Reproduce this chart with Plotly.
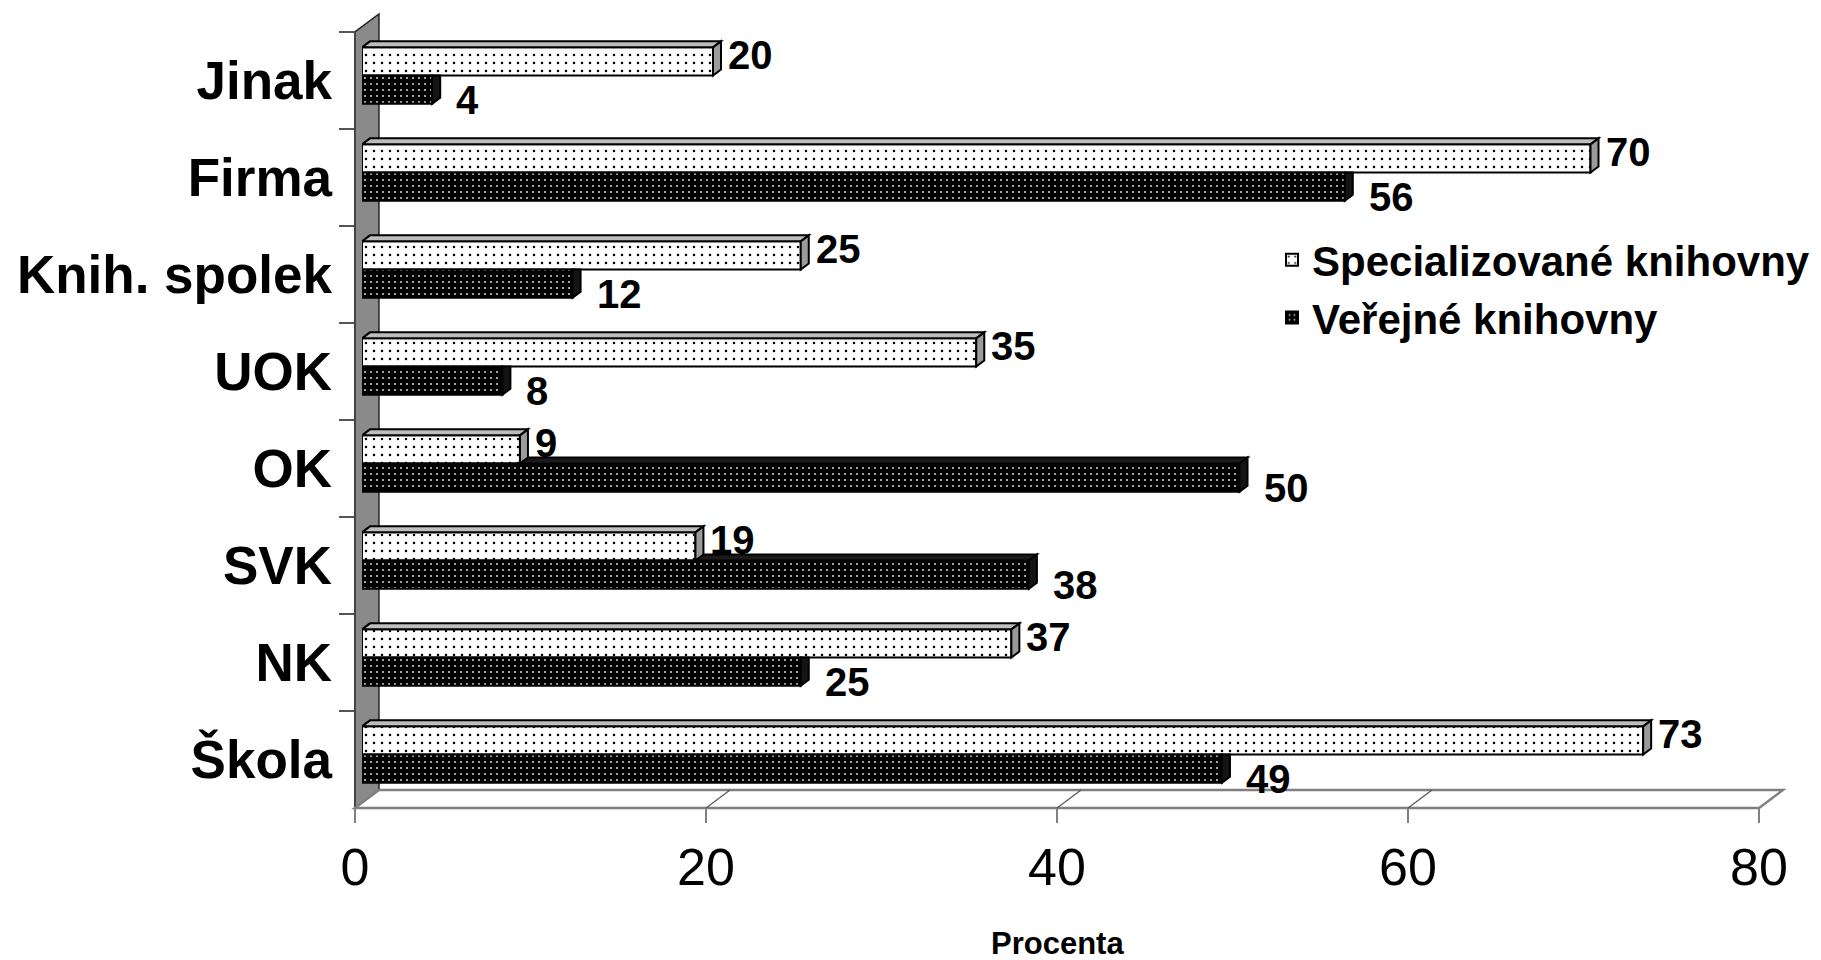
import plotly.graph_objects as go

# Data
categories = ["Jinak", "Firma", "Knih. spolek", "UOK", "OK", "SVK", "NK", "Škola"]
specializovane = [20, 70, 25, 35, 9, 19, 37, 73]
verejne = [4, 56, 12, 8, 50, 38, 25, 49]
series_names = ["Specializované knihovny", "Veřejné knihovny"]
x_ticks = [0, 20, 40, 60, 80]
x_title = "Procenta"

# Canvas and 3D frame geometry (pixels)
W, H = 1821, 960
XMAX = 80
BACK = dict(x0=379, x1=1783, y0=14, y1=790)     # back wall
FRONT = dict(x0=355, x1=1759, y0=32, y1=808)    # front (axis) plane
PLANE = dict(x0=362, x1=1766, y0=27, y1=803)    # plane of the bars' front faces
DEPTH_X, DEPTH_Y = 8, 6                          # bar depth in pixels
FONT = "Liberation Sans, Arial, sans-serif"


def fx(p):
    return p / W


def fy(p):
    return 1 - p / H


n = len(categories)
ypos = list(range(n))
bargap = 0.42
w = (1 - bargap) / 2
ux = (PLANE["x1"] - PLANE["x0"]) / XMAX           # px per value unit
uy = (PLANE["y1"] - PLANE["y0"]) / n              # px per category unit
dx = DEPTH_X / ux
dy = DEPTH_Y / uy

fig = go.Figure()

# Invisible trace registering categories on the front axis
fig.add_trace(go.Scatter(x=[0] * n, y=categories, xaxis="x2", yaxis="y2",
                         mode="markers", marker=dict(opacity=0),
                         showlegend=False, hoverinfo="skip"))

fig.add_trace(go.Bar(
    x=specializovane, y=ypos, orientation="h", name=series_names[0],
    xaxis="x3", yaxis="y3",
    marker=dict(color="white", line=dict(color="black", width=2),
                pattern=dict(shape=".", fgcolor="black", bgcolor="white",
                             size=8, solidity=0.08, fillmode="replace")),
))
fig.add_trace(go.Bar(
    x=verejne, y=ypos, orientation="h", name=series_names[1],
    xaxis="x3", yaxis="y3",
    marker=dict(color="black", line=dict(color="black", width=2),
                pattern=dict(shape=".", fgcolor="#c8c8c8", bgcolor="black",
                             size=6, solidity=0.1, fillmode="replace")),
))


def poly(pts):
    return "M " + " L ".join(f"{x:.4f},{y:.4f}" for x, y in pts) + " Z"


shapes = []

# Left wall and floor
shapes.append(dict(type="path", xref="paper", yref="paper", layer="below",
                   path=poly([(fx(FRONT["x0"]), fy(FRONT["y1"])), (fx(FRONT["x0"]), fy(FRONT["y0"])),
                              (fx(BACK["x0"]), fy(BACK["y0"])), (fx(BACK["x0"]), fy(BACK["y1"]))]),
                   fillcolor="#8a8a8a", line=dict(color="#222", width=1.5)))
shapes.append(dict(type="path", xref="paper", yref="paper", layer="below",
                   path=poly([(fx(FRONT["x0"]), fy(FRONT["y1"])), (fx(FRONT["x1"]), fy(FRONT["y1"])),
                              (fx(BACK["x1"]), fy(BACK["y1"])), (fx(BACK["x0"]), fy(BACK["y1"]))]),
                   fillcolor="white", line=dict(color="#808080", width=2.5)))
# Floor diagonals at the value ticks
for v in x_ticks[1:-1]:
    xf = FRONT["x0"] + v * (FRONT["x1"] - FRONT["x0"]) / XMAX
    xb = BACK["x0"] + v * (BACK["x1"] - BACK["x0"]) / XMAX
    shapes.append(dict(type="line", xref="paper", yref="paper", layer="below",
                       x0=fx(xf), y0=fy(FRONT["y1"]), x1=fx(xb), y1=fy(BACK["y1"]),
                       line=dict(color="#555", width=1.2)))

# 3D faces of the bars
for i, (s, v) in enumerate(zip(specializovane, verejne)):
    ts, bs = i - w, i          # spec bar top / bottom
    tv, bv = i, i + w          # public bar top / bottom
    # public bar: top face beyond the spec bar, and end cap
    if v > s:
        shapes.append(dict(type="path", xref="x3", yref="y3", layer="above",
                           path=poly([(s, tv), (v, tv), (v + dx, tv - dy), (s + dx, tv - dy)]),
                           fillcolor="#1a1a1a", line=dict(color="black", width=2)))
        cap = [(v, tv), (v + dx, tv - dy), (v + dx, bv - dy), (v, bv)]
    else:
        cap = [(v, tv), (v + dx, tv), (v + dx, bv - dy), (v, bv)]
    shapes.append(dict(type="path", xref="x3", yref="y3", layer="above",
                       path=poly(cap), fillcolor="#141414",
                       line=dict(color="black", width=2)))
    # spec bar: top face and end cap
    shapes.append(dict(type="path", xref="x3", yref="y3", layer="above",
                       path=poly([(0, ts), (s, ts), (s + dx, ts - dy), (dx, ts - dy)]),
                       fillcolor="#bdbdbd", line=dict(color="black", width=2)))
    shapes.append(dict(type="path", xref="x3", yref="y3", layer="above",
                       path=poly([(s, ts), (s + dx, ts - dy), (s + dx, bs - dy), (s, bs)]),
                       fillcolor="#9a9a9a", line=dict(color="black", width=2)))

# Value labels
annotations = []
label_font = dict(family=FONT, size=40, color="black", weight="bold")
for i, (s, v) in enumerate(zip(specializovane, verejne)):
    annotations.append(dict(x=s, y=i - w / 2, xref="x3", yref="y3", text=str(s),
                            showarrow=False, xanchor="left", yanchor="middle",
                            xshift=13, yshift=6, font=label_font))
    annotations.append(dict(x=v, y=i + w / 2, xref="x3", yref="y3", text=str(v),
                            showarrow=False, xanchor="left", yanchor="middle",
                            xshift=22, yshift=-10, font=label_font))
annotations.append(dict(x=fx(1057), y=fy(943), xref="paper", yref="paper", text=x_title,
                        showarrow=False, xanchor="center", yanchor="middle",
                        font=dict(family=FONT, size=31, color="black", weight="bold")))

fig.update_layout(
    width=W, height=H, autosize=False,
    margin=dict(l=0, r=0, t=0, b=0, autoexpand=False),
    paper_bgcolor="white", plot_bgcolor="rgba(0,0,0,0)",
    barmode="group", bargap=bargap, bargroupgap=0,
    shapes=shapes, annotations=annotations,
    font=dict(family=FONT, color="black"),
    legend=dict(x=fx(1272), y=fy(226), xanchor="left", yanchor="top",
                bgcolor="rgba(0,0,0,0)",
                font=dict(family=FONT, size=42, color="black", weight="bold")),
    # back wall with gridlines
    xaxis=dict(domain=[fx(BACK["x0"]), fx(BACK["x1"])], range=[0, XMAX], dtick=20,
               showgrid=True, gridcolor="#4d4d4d", gridwidth=1.3, zeroline=False,
               showline=True, mirror=True, linecolor="#8c8c8c", linewidth=3,
               showticklabels=False, ticks="", anchor="y", fixedrange=True,
               automargin=False),
    yaxis=dict(domain=[fy(BACK["y1"]), fy(BACK["y0"])], range=[0, 1],
               showgrid=False, zeroline=False, showline=True, mirror=True,
               linecolor="#8c8c8c", linewidth=3, showticklabels=False,
               ticks="", anchor="x", fixedrange=True, automargin=False),
    # front axes with ticks and labels
    xaxis2=dict(domain=[fx(FRONT["x0"]), fx(FRONT["x1"])], range=[0, XMAX],
                tickvals=x_ticks, ticks="outside", ticklen=14, tickwidth=2,
                tickcolor="#808080", showgrid=False, zeroline=False, showline=False,
                tickfont=dict(family=FONT, size=52, color="black"),
                anchor="y2", fixedrange=True, automargin=False),
    yaxis2=dict(domain=[fy(FRONT["y1"]), fy(FRONT["y0"])], type="category",
                range=[n - 0.5, -0.5], tickson="boundaries", ticks="outside",
                ticklen=15, tickwidth=2, tickcolor="#555", showgrid=False,
                zeroline=False, showline=False, ticklabelstandoff=22,
                tickfont=dict(family=FONT, size=53, color="black", weight="bold"),
                anchor="x2", fixedrange=True, automargin=False),
    # bar plane
    xaxis3=dict(domain=[fx(PLANE["x0"]), fx(PLANE["x1"])], range=[0, XMAX],
                visible=False, anchor="y3", fixedrange=True, automargin=False),
    yaxis3=dict(domain=[fy(PLANE["y1"]), fy(PLANE["y0"])], range=[n - 0.5, -0.5],
                visible=False, anchor="x3", fixedrange=True, automargin=False),
)

fig.write_html("out.html")
